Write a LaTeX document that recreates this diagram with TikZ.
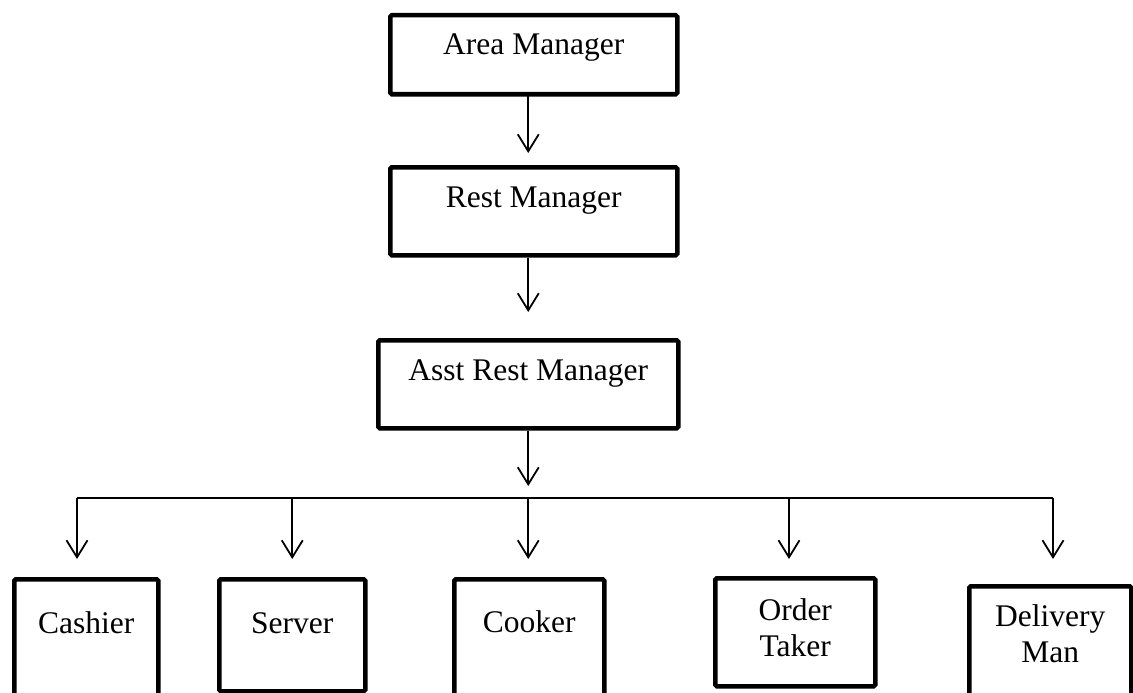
\documentclass[tikz,border=0pt]{standalone}
\usepackage{fontspec}
\setmainfont{Liberation Serif}
\usetikzlibrary{arrows.meta}
\begin{document}
\begin{tikzpicture}[x=1pt,y=-1pt,
  box/.style={draw, line width=4.5pt, rounded corners=1.5pt, inner sep=0pt, anchor=north west},
  lbl/.style={font=\fontsize{31.5}{36}\selectfont, inner sep=0pt, anchor=base, align=center},
  conn/.style={line width=1.8pt},
  arr/.style={conn, -{Straight Barb[length=17pt,width=21pt]}}]
\clip (0,0) rectangle (1133,693);
\fill[white] (0,0) rectangle (1133,693);
% boxes
\node[box, minimum width=287pt, minimum height=79pt]  (am)   at (388,13)  {};
\node[box, minimum width=287pt, minimum height=88pt]  (rm)   at (388,165) {};
\node[box, minimum width=300pt, minimum height=88pt]  (asst) at (376,338) {};
\node[box, minimum width=144pt, minimum height=128pt] (cash) at (12,577)  {};
\node[box, minimum width=146pt, minimum height=112pt] (serv) at (217,577) {};
\node[box, minimum width=150pt, minimum height=128pt] (cook) at (452,577) {};
\node[box, minimum width=160pt, minimum height=108pt] (ord)  at (713,576) {};
\node[box, minimum width=162pt, minimum height=121pt] (del)  at (967,584) {};
% labels (base = baseline of the last line)
\node[lbl] (amt)   at (am.north |- 0,55)    {Area Manager};
\node[lbl] (rmt)   at (rm.north |- 0,207)   {Rest Manager};
\node[lbl] (asstt) at (asst.north |- 0,380) {Asst Rest Manager};
\node[lbl] (casht) at (cash.north |- 0,633) {Cashier};
\node[lbl] (servt) at (serv.north |- 0,633) {Server};
\node[lbl] (cookt) at (cook.north |- 0,632) {Cooker};
\node[lbl] (ordt)  at (ord.north |- 0,656)  {Order\\Taker};
\node[lbl] (delt)  at (del.north |- 0,662)  {Delivery\\Man};
% connectors
\coordinate (bl) at (77,498);
\coordinate (br) at (1053,498);
\coordinate (d4) at (789,498);
\draw[arr, shorten >=12pt] (am.south -| asst.north) -- (rm.north -| asst.north);
\draw[arr, shorten >=26pt] (rm.south -| asst.north) -- (asst.north);
\draw[arr, shorten >=12pt] (asst.south) -- (asst.south |- bl);
\draw[conn] (bl) -- (br);
\draw[arr, shorten >=18pt] (bl) -- (bl |- cash.north);
\draw[arr, shorten >=18pt] (serv.north |- bl) -- (serv.north);
\draw[arr, shorten >=18pt] (asst.south |- bl) -- (asst.south |- cook.north);
\draw[arr, shorten >=17pt] (d4) -- (d4 |- ord.north);
\draw[arr, shorten >=25pt] (br) -- (br |- del.north);
\end{tikzpicture}
\end{document}
